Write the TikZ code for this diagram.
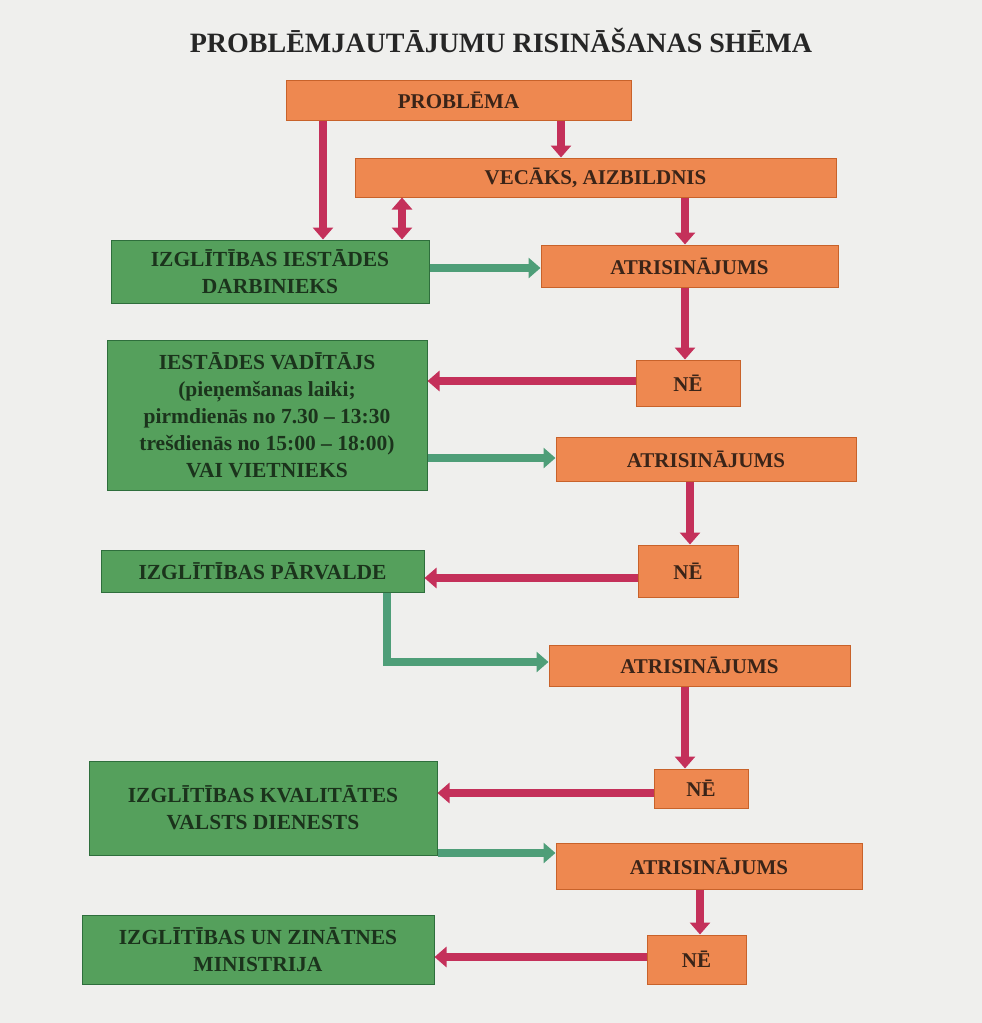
\documentclass[tikz,border=0pt]{standalone}
\usepackage{fontspec}
\setmainfont{Liberation Serif}
\usetikzlibrary{arrows.meta}
\definecolor{bg}{HTML}{EFEFED}
\definecolor{orfill}{HTML}{EE8850}
\definecolor{ordraw}{HTML}{C8622A}
\definecolor{grfill}{HTML}{55A05C}
\definecolor{grdraw}{HTML}{2E6E3C}
\definecolor{ortext}{HTML}{3A2418}
\definecolor{grtext}{HTML}{1B331C}
\definecolor{redarr}{HTML}{C4305A}
\definecolor{grarr}{HTML}{4E9E78}
\tikzset{
  obox/.style={rectangle, fill=orfill, draw=ordraw, line width=1pt, text=ortext,
    font=\fontsize{21}{24}\selectfont\bfseries, align=center, inner sep=0pt},
  gbox/.style={rectangle, fill=grfill, draw=grdraw, line width=1pt, text=grtext,
    font=\fontsize{21.5}{27}\selectfont\bfseries, align=center, inner sep=0pt},
  rarr/.style={draw=redarr, line width=8pt, -{Triangle[length=12pt,width=20pt]}},
  rarr2/.style={draw=redarr, line width=8pt, {Triangle[length=12pt,width=20pt]}-{Triangle[length=12pt,width=20pt]}},
  garr/.style={draw=grarr, line width=8pt, -{Triangle[length=12pt,width=20pt]}},
}
\begin{document}
\begin{tikzpicture}[x=1pt,y=-1pt]
\fill[bg] (0,0) rectangle (982,1023);
\useasboundingbox (0,0) rectangle (982,1023);
\node[font=\fontsize{28}{30}\selectfont\bfseries, text=black!85] (title) at (501,40) {PROBLĒMJAUTĀJUMU RISINĀŠANAS SHĒMA};
% orange boxes
\node[obox, minimum width=345pt, minimum height=40pt] (prob) at (458.5,100) {PROBLĒMA};
\node[obox, minimum width=481pt, minimum height=39pt] (vec) at (595.5,177.5) {VECĀKS, AIZBILDNIS};
\node[obox, minimum width=297pt, minimum height=42pt] (at1) at (689.5,266) {ATRISINĀJUMS};
\node[obox, minimum width=104pt, minimum height=46pt] (ne1) at (688,383) {NĒ};
\node[obox, minimum width=300pt, minimum height=44pt] (at2) at (706,459) {ATRISINĀJUMS};
\node[obox, minimum width=100pt, minimum height=52pt] (ne2) at (688,571) {NĒ};
\node[obox, minimum width=301pt, minimum height=41pt] (at3) at (699.5,665.5) {ATRISINĀJUMS};
\node[obox, minimum width=94pt, minimum height=39pt] (ne3) at (701,788.5) {NĒ};
\node[obox, minimum width=306pt, minimum height=46pt] (at4) at (709,866) {ATRISINĀJUMS};
\node[obox, minimum width=99pt, minimum height=49pt] (ne4) at (696.5,959.5) {NĒ};
% green boxes
\node[gbox, minimum width=318pt, minimum height=63pt] (g1) at (270,271.5) {IZGLĪTĪBAS IESTĀDES\\DARBINIEKS};
\node[gbox, minimum width=320pt, minimum height=150pt] (g2) at (267,415) {IESTĀDES VADĪTĀJS\\(pieņemšanas laiki;\\pirmdienās no 7.30 – 13:30\\trešdienās no 15:00 – 18:00)\\VAI VIETNIEKS};
\node[gbox, minimum width=323pt, minimum height=42pt] (g3) at (262.5,571) {IZGLĪTĪBAS PĀRVALDE};
\node[gbox, minimum width=348pt, minimum height=94pt] (g4) at (263,808) {IZGLĪTĪBAS KVALITĀTES\\VALSTS DIENESTS};
\node[gbox, minimum width=352pt, minimum height=69pt] (g5) at (258,949.5) {IZGLĪTĪBAS UN ZINĀTNES\\MINISTRIJA};
% coordinates for elbow
\coordinate (elb) at (387,662);
% red arrows
\draw[rarr] (prob.south -| 323,0) -- (g1.north -| 323,0);
\draw[rarr] (prob.south -| 561,0) -- (vec.north -| 561,0);
\draw[rarr2] (vec.south -| 402,0) -- (g1.north -| 402,0);
\draw[rarr] (vec.south -| 685,0) -- (at1.north -| 685,0);
\draw[rarr] (at1.south -| 685,0) -- (ne1.north -| 685,0);
\draw[rarr] (ne1.west |- 0,381) -- (g2.east |- 0,381);
\draw[rarr] (at2.south -| 690,0) -- (ne2.north -| 690,0);
\draw[rarr] (ne2.west |- 0,578) -- (g3.east |- 0,578);
\draw[rarr] (at3.south -| 685,0) -- (ne3.north -| 685,0);
\draw[rarr] (ne3.west |- 0,793) -- (g4.east |- 0,793);
\draw[rarr] (at4.south -| 700,0) -- (ne4.north -| 700,0);
\draw[rarr] (ne4.west |- 0,957) -- (g5.east |- 0,957);
% green arrows
\draw[garr] (g1.east |- 0,268) -- (at1.west |- 0,268);
\draw[garr] (g2.east |- 0,458) -- (at2.west |- 0,458);
\draw[garr] (g3.south -| elb) -- (elb) -- (at3.west |- elb);
\draw[garr] (g4.east |- 0,853) -- (at4.west |- 0,853);
\end{tikzpicture}
\end{document}
